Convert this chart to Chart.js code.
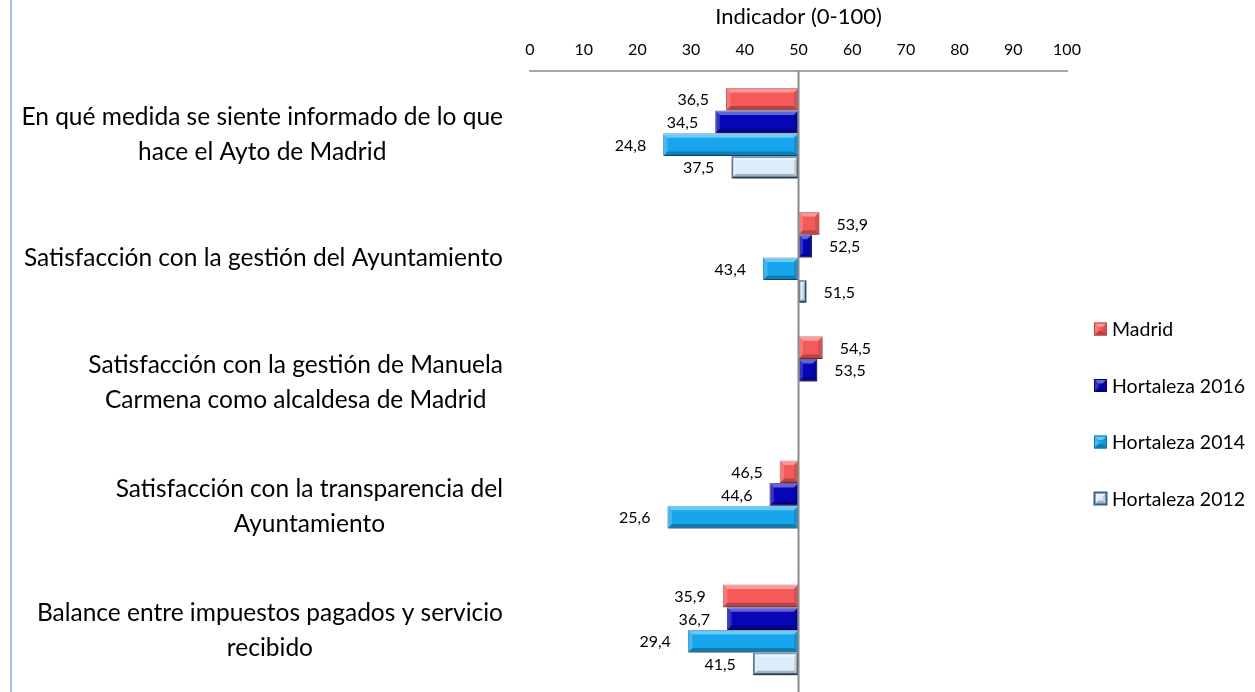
<!DOCTYPE html>
<html lang="es">
<head>
<meta charset="utf-8">
<title>Indicador (0-100)</title>
<script src="https://cdn.jsdelivr.net/npm/chart.js"></script>
<style>
  html, body { margin: 0; padding: 0; background: #fff; overflow: hidden; }
  .wrap { position: relative; width: 1255px; height: 692px; }
  .frame { position: absolute; left: 10px; top: 0; height: 692px; border-left: 2px solid #a9c3e6; }
</style>
</head>
<body>
<div class="wrap">
  <div class="frame"></div>
  <canvas id="indicador"></canvas>
</div>
<script>
// preguntas del barómetro (una entrada por línea de texto)
const categories = [
  ['En qué medida se siente informado de lo que', 'hace el Ayto de Madrid'],
  ['Satisfacción con la gestión del Ayuntamiento'],
  ['Satisfacción con la gestión de Manuela', 'Carmena como alcaldesa de Madrid'],
  ['Satisfacción con la transparencia del', 'Ayuntamiento'],
  ['Balance entre impuestos pagados y servicio', 'recibido']
];
const seriesNames = ['Madrid', 'Hortaleza 2016', 'Hortaleza 2014', 'Hortaleza 2012'];
const madrid = [36.5, 53.9, 54.5, 46.5, 35.9];
const hortaleza2016 = [34.5, 52.5, 53.5, 44.6, 36.7];
const hortaleza2014 = [24.8, 43.4, null, 25.6, 29.4];
const hortaleza2012 = [37.5, 51.5, null, null, 41.5];
const xTicks = [0, 10, 20, 30, 40, 50, 60, 70, 80, 90, 100];
const baseline = 50;

const fills = ['#f55a5a', '#0606b6', '#17a6ee', '#dcedf9'];
const borders = ['#c24444', '#000080', '#0c7dbd', '#3a5f8c'];
const borderWidths = [1, 1, 1, 2];
const FONT = 'Lato, "Open Sans", sans-serif';

// las barras salen del valor medio (50) hacia el valor de cada serie
const toRange = arr => arr.map(v => (v === null ? null : [baseline, v]));
const fmt = v => v.toFixed(1).replace('.', ',');

function bevel(ctx, L, R, T, B) {
  const b = Math.min(4.5, (R - L) / 2, (B - T) / 2);
  const poly = (pts, color) => {
    ctx.beginPath();
    ctx.moveTo(pts[0][0], pts[0][1]);
    for (let i = 1; i < pts.length; i++) ctx.lineTo(pts[i][0], pts[i][1]);
    ctx.closePath();
    ctx.fillStyle = color;
    ctx.fill();
  };
  poly([[L, T], [R, T], [R - b, T + b], [L + b, T + b]], 'rgba(255,255,255,0.38)');
  poly([[L, B], [R, B], [R - b, B - b], [L + b, B - b]], 'rgba(0,0,0,0.25)');
  poly([[L, T], [L + b, T + b], [L + b, B - b], [L, B]], 'rgba(255,255,255,0.18)');
  poly([[R, T], [R - b, T + b], [R - b, B - b], [R, B]], 'rgba(0,0,0,0.12)');
}

const barEffects = {
  id: 'barEffects',
  beforeDatasetsDraw(chart) {
    const ctx = chart.ctx;
    ctx.save();
    ctx.shadowColor = 'rgba(0,0,0,0.3)';
    ctx.shadowBlur = 5;
    ctx.shadowOffsetY = 3;
    ctx.shadowOffsetX = 1;
  },
  afterDatasetsDraw(chart) {
    const ctx = chart.ctx;
    ctx.restore();
    const area = chart.chartArea;
    const xScale = chart.scales.x;
    ctx.save();
    chart.data.datasets.forEach((ds, i) => {
      const meta = chart.getDatasetMeta(i);
      meta.data.forEach((bar, j) => {
        const raw = ds.values[j];
        if (raw === null) return;
        const p = bar.getProps(['x', 'y', 'base', 'height'], true);
        const L = Math.min(p.x, p.base), R = Math.max(p.x, p.base);
        bevel(ctx, L, R, p.y - p.height / 2, p.y + p.height / 2);
        // etiqueta de valor en el extremo de la barra
        ctx.font = '16px ' + FONT;
        ctx.fillStyle = '#000';
        ctx.textBaseline = 'middle';
        if (raw < baseline) {
          ctx.textAlign = 'right';
          ctx.fillText(fmt(raw), L - 17, p.y + 1);
        } else {
          ctx.textAlign = 'left';
          ctx.fillText(fmt(raw), R + 17, p.y + 1);
        }
      });
    });
    // eje vertical en el valor medio
    const x50 = Math.round(xScale.getPixelForValue(baseline)) - 0.5;
    ctx.strokeStyle = '#8a8a8a';
    ctx.lineWidth = 2;
    ctx.beginPath();
    ctx.moveTo(x50, area.top);
    ctx.lineTo(x50, chart.height);
    ctx.stroke();
    ctx.restore();
  }
};

// textos de las preguntas, alineados a la derecha y centrados entre sí
const categoryLabels = {
  id: 'categoryLabels',
  afterDraw(chart) {
    const ctx = chart.ctx;
    const yScale = chart.scales.y;
    const right = chart.chartArea.left - 27;
    const lineH = 35;
    ctx.save();
    ctx.font = '24.5px ' + FONT;
    ctx.fillStyle = '#000';
    ctx.textAlign = 'center';
    ctx.textBaseline = 'middle';
    categories.forEach((lines, i) => {
      const cy = yScale.getPixelForValue(i);
      const w = Math.max(...lines.map(t => ctx.measureText(t).width));
      const cx = right - w / 2;
      lines.forEach((t, k) => {
        ctx.fillText(t, cx, cy + 1 + (k - (lines.length - 1) / 2) * lineH);
      });
    });
    ctx.restore();
  }
};

// leyenda vertical a la derecha
const sideLegend = {
  id: 'sideLegend',
  afterDraw(chart) {
    const ctx = chart.ctx;
    const x0 = 1094, y0 = 329, step = 56.5, box = 13;
    ctx.save();
    ctx.font = '19.5px ' + FONT;
    ctx.textBaseline = 'middle';
    ctx.textAlign = 'left';
    chart.data.datasets.forEach((ds, i) => {
      const y = y0 + i * step;
      ctx.fillStyle = ds.backgroundColor;
      ctx.fillRect(x0, y - box / 2, box, box);
      bevel(ctx, x0, x0 + box, y - box / 2, y + box / 2);
      ctx.strokeStyle = ds.borderColor;
      ctx.lineWidth = ds.borderWidth;
      ctx.strokeRect(x0 + 0.5, y - box / 2 + 0.5, box - 1, box - 1);
      ctx.fillStyle = '#000';
      ctx.fillText(ds.label, x0 + box + 5, y + 1);
    });
    ctx.restore();
  }
};

const seriesValues = [madrid, hortaleza2016, hortaleza2014, hortaleza2012];

new Chart(document.getElementById('indicador'), {
  type: 'bar',
  data: {
    labels: categories,
    datasets: seriesValues.map((vals, i) => ({
      label: seriesNames[i],
      values: vals,
      data: toRange(vals),
      backgroundColor: fills[i],
      borderColor: borders[i],
      borderWidth: borderWidths[i],
      borderSkipped: false,
      barPercentage: 1,
      categoryPercentage: 0.73
    }))
  },
  options: {
    indexAxis: 'y',
    responsive: true,
    maintainAspectRatio: false,
    animation: false,
    layout: { padding: { left: 530, right: 188, top: 0, bottom: 0 } },
    scales: {
      x: {
        position: 'top',
        min: 0,
        max: 100,
        afterBuildTicks: scale => { scale.ticks = xTicks.map(v => ({ value: v })); },
        grid: { display: false, drawTicks: false },
        border: { display: true, color: '#a6a6a6', width: 2 },
        ticks: { padding: 12, color: '#000', font: { family: FONT, size: 16 } },
        title: {
          display: true,
          text: 'Indicador (0-100)',
          color: '#000',
          padding: { top: 6, bottom: 0 },
          font: { family: FONT, size: 22, lineHeight: 1 }
        }
      },
      y: { display: false }
    },
    plugins: {
      legend: { display: false },
      tooltip: { enabled: false }
    }
  },
  plugins: [barEffects, categoryLabels, sideLegend]
});
</script>
</body>
</html>
